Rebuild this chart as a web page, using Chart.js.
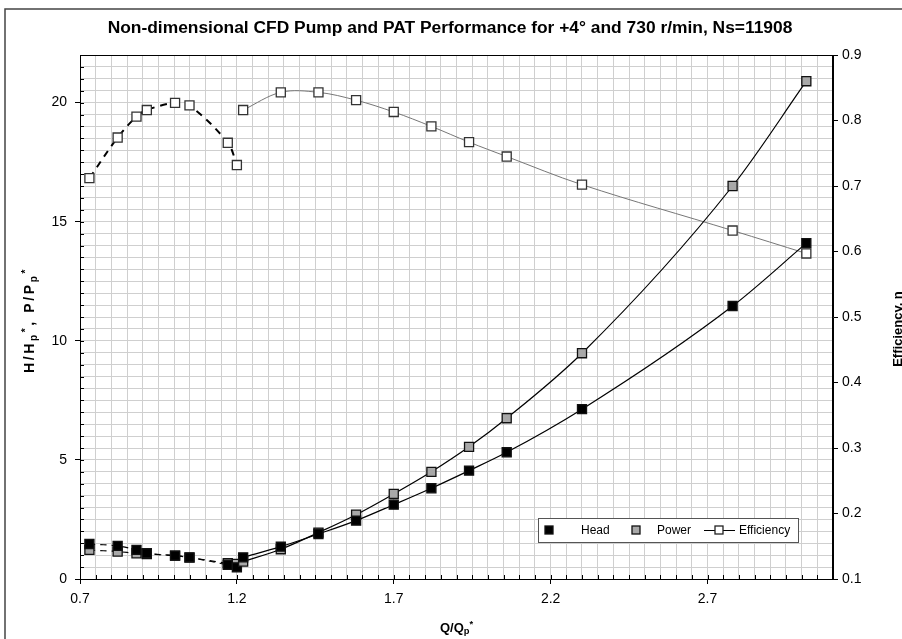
<!DOCTYPE html>
<html><head><meta charset="utf-8">
<script src="https://cdn.jsdelivr.net/npm/chart.js@4.4.1/dist/chart.umd.min.js"></script>
<style>html,body{margin:0;padding:0;background:#fff;overflow:hidden}</style>
</head><body><canvas id="c" width="902" height="639"></canvas>
<script>
// ---- data ----
const pumpQ      = [0.73, 0.82, 0.88, 0.913, 1.003, 1.049, 1.171, 1.20];
const pumpHead   = [1.47, 1.39, 1.22, 1.08, 0.98, 0.91, 0.59, 0.49];
const pumpPower  = [1.22, 1.15, 1.08, 1.05, 0.98, 0.90, 0.66, 0.63];
const pumpEff    = [0.712, 0.774, 0.806, 0.816, 0.827, 0.823, 0.766, 0.732];

const patQ       = [1.22, 1.34, 1.46, 1.58, 1.70, 1.82, 1.94, 2.06, 2.30, 2.78, 3.015];
const patHead    = [0.91, 1.36, 1.89, 2.45, 3.12, 3.81, 4.55, 5.32, 7.13, 11.46, 14.1];
const patPower   = [0.73, 1.25, 1.95, 2.70, 3.57, 4.50, 5.55, 6.75, 9.48, 16.5, 20.9];
const patEff     = [0.816, 0.843, 0.843, 0.831, 0.813, 0.791, 0.767, 0.745, 0.702, 0.632, 0.597];

const xTicks     = [0.7, 1.2, 1.7, 2.2, 2.7];
const yTicks     = [0, 5, 10, 15, 20];
const y1Ticks    = [0.1, 0.2, 0.3, 0.4, 0.5, 0.6, 0.7, 0.8, 0.9];

const titleText  = 'Non-dimensional CFD Pump and PAT Performance for +4\u00B0 and 730 r/min, Ns=11908';
const legendNames = ['Head', 'Power', 'Efficiency'];

const pts = (xs, ys) => xs.map((x, i) => ({x: x, y: ys[i]}));
const FONT = '"Liberation Sans", Arial, sans-serif';
const near = (a, b) => Math.abs(a - b) < 1e-6;
const isIn = (arr, v) => arr.some(t => near(t, v));

function markerDS(label, data, axis, fill, extra) {
  return Object.assign({
    label: label, data: data, yAxisID: axis,
    pointStyle: 'rect', pointRadius: 6.4, pointHoverRadius: 6.4,
    pointBackgroundColor: fill, pointBorderColor: '#111', pointBorderWidth: 1.3,
    borderColor: '#000', borderWidth: 1.2, fill: false
  }, extra);
}

const datasets = [
  markerDS('Head', pts(patQ, patHead), 'y', '#000', {tension: 0.4, cubicInterpolationMode: 'monotone'}),
  markerDS('Power', pts(patQ, patPower), 'y', '#a8a8a8', {tension: 0.4, cubicInterpolationMode: 'monotone'}),
  markerDS('Efficiency', pts(patQ, patEff), 'y1', '#fff', {tension: 0.35, borderColor: '#777', borderWidth: 1, pointBorderColor: '#333'}),
  markerDS('pHead', pts(pumpQ, pumpHead), 'y', '#000', {tension: 0.3, borderDash: [6, 5]}),
  markerDS('pPower', pts(pumpQ, pumpPower), 'y', '#a8a8a8', {tension: 0.3, borderDash: [6, 5]}),
  markerDS('pEff', pts(pumpQ, pumpEff), 'y1', '#fff', {tension: 0.35, borderDash: [7, 6], borderWidth: 2, pointBorderColor: '#333'})
];

function setSpacing(ctx, s) { if ('letterSpacing' in ctx) ctx.letterSpacing = s + 'px'; }
function richWidth(ctx, parts, size) {
  let w = 0;
  parts.forEach(p => {
    ctx.font = 'bold ' + (p[1] ? size * 0.72 : size) + 'px ' + FONT;
    w += ctx.measureText(p[0]).width;
  });
  return w;
}
function drawRich(ctx, parts, cx, cy, size) {
  const w = richWidth(ctx, parts, size);
  let x = cx - w / 2;
  ctx.textBaseline = 'middle';
  ctx.textAlign = 'left';
  parts.forEach(p => {
    const s = p[1] ? size * 0.72 : size;
    ctx.font = 'bold ' + s + 'px ' + FONT;
    let dy = 0;
    if (p[1] === 'sub') dy = size * 0.3;
    if (p[1] === 'sup') dy = -size * 0.3;
    ctx.fillText(p[0], x, cy + dy);
    x += ctx.measureText(p[0]).width;
  });
}

const decor = {
  id: 'decor',
  beforeDraw(chart) {
    const ctx = chart.ctx;
    ctx.save();
    ctx.fillStyle = '#fff';
    ctx.fillRect(0, 0, chart.width, chart.height);
    ctx.restore();
  },
  afterDraw(chart) {
    const ctx = chart.ctx, a = chart.chartArea;
    const xs = chart.scales.x, ys = chart.scales.y;
    ctx.save();
    // outer frame
    ctx.strokeStyle = '#444'; ctx.lineWidth = 1.5;
    ctx.beginPath(); ctx.moveTo(5, 700); ctx.lineTo(5, 9); ctx.lineTo(1000, 9); ctx.stroke();
    // plot frame
    ctx.strokeStyle = '#000'; ctx.lineWidth = 1;
    ctx.strokeRect(a.left + 0.5, a.top + 0.5, a.right - a.left - 1, a.bottom - a.top);
    // minor inside ticks
    ctx.beginPath();
    for (let i = 0; i <= 44; i++) {
      const y = Math.round(ys.getPixelForValue(i * 0.5)) + 0.5;
      ctx.moveTo(a.left, y); ctx.lineTo(a.left + 4, y);
    }
    for (let i = 0; i <= 48; i++) {
      const x = Math.round(xs.getPixelForValue(0.7 + i * 0.05)) + 0.5;
      ctx.moveTo(x, a.bottom); ctx.lineTo(x, a.bottom - 4);
    }
    ctx.stroke();
    // title
    ctx.fillStyle = '#000';
    ctx.font = 'bold 17.4px ' + FONT;
    ctx.textAlign = 'center'; ctx.textBaseline = 'middle';
    ctx.fillText(titleText, 450, 28);
    // x title
    drawRich(ctx, [['Q/Q'], ['p', 'sub'], ['*', 'sup']], (a.left + a.right) / 2, 628, 13);
    // left title
    ctx.save();
    ctx.translate(30, 320);
    ctx.rotate(-Math.PI / 2);
    setSpacing(ctx, 2.6);
    drawRich(ctx, [['H/H'], ['p', 'sub'], ['*', 'sup'], [', P/P'], ['p', 'sub'], ['*', 'sup']], 0, 0, 14);
    setSpacing(ctx, 0);
    ctx.restore();
    // right title (clipped by canvas edge)
    ctx.save();
    ctx.translate(898, (a.top + a.bottom) / 2 + 12);
    ctx.rotate(-Math.PI / 2);
    ctx.font = 'bold 13px ' + FONT;
    ctx.textAlign = 'center'; ctx.textBaseline = 'middle';
    ctx.fillText('Efficiency, \u03B7', 0, 0);
    ctx.restore();
    // legend
    const lx = 538, ly = 518, lw = 260, lh = 24;
    ctx.fillStyle = '#fff';
    ctx.fillRect(lx, ly, lw, lh);
    ctx.strokeStyle = '#555'; ctx.lineWidth = 1;
    ctx.strokeRect(lx + 0.5, ly + 0.5, lw, lh);
    const cy = ly + lh / 2;
    function sq(x, fill, border) {
      ctx.fillStyle = fill; ctx.fillRect(x - 4, cy - 4, 8, 8);
      ctx.strokeStyle = border; ctx.lineWidth = 1.3; ctx.strokeRect(x - 4, cy - 4, 8, 8);
    }
    sq(549, '#000', '#111');
    sq(636, '#a8a8a8', '#111');
    ctx.strokeStyle = '#000'; ctx.lineWidth = 1;
    ctx.beginPath(); ctx.moveTo(704, cy + 0.5); ctx.lineTo(735, cy + 0.5); ctx.stroke();
    sq(719, '#fff', '#222');
    ctx.fillStyle = '#000'; ctx.font = '12px ' + FONT;
    ctx.textAlign = 'left'; ctx.textBaseline = 'middle';
    ctx.fillText(legendNames[0], 581, cy + 1);
    ctx.fillText(legendNames[1], 657, cy + 1);
    ctx.fillText(legendNames[2], 739, cy + 1);
    ctx.restore();
  }
};

const tickFont = {family: FONT, size: 14};
new Chart(document.getElementById('c'), {
  type: 'line',
  data: {datasets: datasets},
  options: {
    responsive: false, animation: false, devicePixelRatio: 1,
    layout: {padding: {top: 55, left: 0, right: 0, bottom: 0}},
    plugins: {legend: {display: false}, tooltip: {enabled: false}, title: {display: false}},
    scales: {
      x: {
        type: 'linear', min: 0.7, max: 3.1,
        afterBuildTicks(s) { s.ticks = []; for (let i = 0; i <= 48; i++) s.ticks.push({value: +(0.7 + i * 0.05).toFixed(2)}); },
        afterFit(s) { s.height = 60; },
        ticks: {autoSkip: false, maxRotation: 0, font: tickFont, color: '#000', padding: 7,
          callback: v => isIn(xTicks, v) ? v.toFixed(1) : ''},
        grid: {color: '#cfcfcf', lineWidth: 1, tickLength: 5,
          tickColor: c => (c.tick && isIn(xTicks, c.tick.value)) ? '#000' : 'rgba(0,0,0,0)'},
        border: {color: '#000', width: 1}
      },
      y: {
        type: 'linear', position: 'left', min: 0, max: 22,
        afterBuildTicks(s) { s.ticks = []; for (let i = 0; i <= 44; i++) s.ticks.push({value: i * 0.5}); },
        afterFit(s) { s.width = 80; },
        ticks: {autoSkip: false, font: tickFont, color: '#000', padding: 8,
          callback: v => isIn(yTicks, v) ? String(v) : ''},
        grid: {color: '#cfcfcf', lineWidth: 1, tickLength: 5,
          tickColor: c => (c.tick && isIn(yTicks, c.tick.value)) ? '#000' : 'rgba(0,0,0,0)'},
        border: {color: '#000', width: 1}
      },
      y1: {
        type: 'linear', position: 'right', min: 0.1, max: 0.9,
        afterBuildTicks(s) { s.ticks = y1Ticks.map(v => ({value: v})); },
        afterFit(s) { s.width = 69; },
        ticks: {autoSkip: false, font: tickFont, color: '#000', padding: 4,
          callback: v => v.toFixed(1)},
        grid: {drawOnChartArea: false, tickLength: 5, color: '#000'},
        border: {color: '#000', width: 1}
      }
    }
  },
  plugins: [decor]
});
</script>
</body></html>
